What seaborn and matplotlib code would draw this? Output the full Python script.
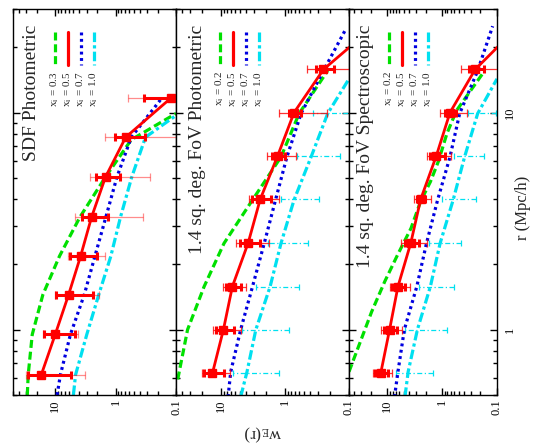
"""
w_E(r) for three samples, drawn turned on its side like the original page
"""

import numpy as np
import pandas as pd
import matplotlib
matplotlib.use("Agg")
import matplotlib.pyplot as plt
import seaborn as sns
from matplotlib.lines import Line2D
from matplotlib.ticker import FixedLocator, FixedFormatter, LogLocator, NullFormatter

# === Data: SDF photometric ===
r_sdf = [0.62, 0.95, 1.45, 2.18, 3.3, 5.05, 7.7, 11.7]
w_sdf = [17, 10, 6.0, 3.8, 2.5, 1.47, 0.68, 0.12]
err_sdf_in = [11.5, 5.3, 3.6, 1.8, 1.15, 0.63, 0.36, 0.22]
err_sdf_out = [13.8, 5.8, 4.1, 2.3, 2.15, 1.2, 0.8, 0.5]

sdf_r_green = [0.5, 0.62, 0.95, 1.45, 2.18, 3.3, 5.05, 7.5, 9.9]
sdf_w_green = [29, 28, 24, 16, 8.5, 3.9, 1.47, 0.55, 0.1]
sdf_r_blue = [0.5, 0.62, 0.95, 1.45, 2.18, 3.3, 5.05, 7.7, 11.7]
sdf_w_blue = [9.3, 8.2, 5.6, 3.3, 2.2, 1.45, 0.95, 0.55, 0.17]
sdf_r_cyan = [0.5, 0.62, 0.95, 1.45, 2.18, 3.3, 5.05, 7.7, 9.7]
sdf_w_cyan = [5.0, 4.6, 3.0, 1.9, 1.2, 0.83, 0.54, 0.32, 0.1]

# === Data: 1.4 sq. deg. FoV (both panels share r bins) ===
r_fov = [0.63, 1.0, 1.58, 2.51, 3.98, 6.31, 10.0, 15.8, 25.1]

w_phot = [13.5, 9.1, 6.6, 3.74, 2.43, 1.30, 0.72, 0.25, 0.04]
err_phot_in = [4.6, 2.9, 1.8, 1.3, 0.78, 0.31, 0.15, 0.08, 0]
err_phot_out = [6.4, 4.2, 2.6, 2.0, 1.2, 0.63, 0.5, 0.2, 0]
phot_w_cyanpts = [3.9, 2.75, 1.7, 1.15, 0.72, 0.39, 0.22]
phot_err_cyan = [2.65, 1.9, 1.1, 0.71, 0.43, 0.25, 0.15]

phot_r_green = [0.59, 1.0, 1.58, 2.5, 3.96, 6.25, 9.9, 15.6]
phot_w_green = [47, 33, 18.2, 8.9, 3.2, 1.15, 0.6, 0.215]
phot_r_blue = [0.49, 0.64, 1.0, 1.58, 2.5, 3.96, 6.25, 9.9, 15.6, 24.5]
phot_w_blue = [7.7, 7.0, 4.9, 3.2, 2.1, 1.4, 0.93, 0.56, 0.25, 0.11]
phot_r_cyan = [0.49, 0.64, 1.0, 1.58, 2.5, 3.96, 6.25, 9.9, 14.3]
phot_w_cyan = [4.9, 3.9, 2.84, 1.7, 1.15, 0.72, 0.39, 0.215, 0.1]

w_spec = [13.2, 9.1, 6.4, 3.73, 2.47, 1.28, 0.72, 0.25, 0.04]
err_spec_in = [3.6, 2.3, 1.65, 1.1, 0.4, 0.38, 0.15, 0.08, 0]
err_spec_out = [5.0, 3.75, 2.5, 1.85, 0.85, 0.6, 0.37, 0.2, 0]
spec_w_cyanpts = [4.17, 2.83, 1.64, 1.09, 0.63, 0.39, 0.225]
spec_err_cyan = [2.7, 2.0, 1.03, 0.64, 0.39, 0.22, 0.12]

spec_r_green = [0.64, 1.21, 1.67, 2.22, 2.93, 3.9, 4.8, 6.0, 8.0, 10.2, 15.2]
spec_w_green = [50, 19.3, 11.1, 6.45, 3.7, 2.47, 1.64, 1.16, 0.82, 0.55, 0.18]
spec_r_blue = [0.49, 0.64, 1.0, 1.58, 2.5, 3.96, 6.25, 9.9, 15.6, 25]
spec_w_blue = [7.4, 6.4, 4.9, 2.9, 1.93, 1.21, 0.72, 0.48, 0.225, 0.12]
spec_r_cyan = [0.49, 0.64, 1.0, 1.58, 2.5, 3.96, 6.25, 9.9, 14.3]
spec_w_cyan = [4.77, 4.17, 2.83, 1.64, 1.09, 0.63, 0.39, 0.225, 0.1]

titles = ["SDF Photometric", "1.4 sq. deg. FoV Photometric", "1.4 sq. deg. FoV Spectroscopic"]
legend_sdf = ["0.3", "0.5", "0.7", "1.0"]
legend_fov = ["0.2", "0.5", "0.7", "1.0"]

# === Style ===
sns.set_style("ticks")
plt.rcParams["font.family"] = ["Liberation Serif", "DejaVu Serif"]
plt.rcParams["mathtext.fontset"] = "stix"

RED, GREEN, BLUE, CYAN = "#ff0000", "#00e000", "#0000e0", "#00e0f0"
LS = {"green": (0, (2.5, 1.2)), "red": "-", "blue": (0, (0.9, 1.1)), "cyan": (0, (3, 1, 1, 1))}
COLS = {"green": GREEN, "red": RED, "blue": BLUE, "cyan": CYAN}

W, H = 536, 447
fig = plt.figure(figsize=(W / 100, H / 100), dpi=100)


def fx(px):
    return px / W


def fy(py):
    return 1 - py / H


# pixel boxes of the three panels (left, width)
boxes = [(13, 163), (176, 173), (349, 148)]
top_px, bot_px = 9, 395
title_xs = [32, 197, 366]
leg_offsets = [23, 36, 49, 62]

panels = [
    dict(r=r_sdf, w=w_sdf, e_in=err_sdf_in, e_out=err_sdf_out, thin_alpha=0.45,
         curves=[("green", sdf_r_green, sdf_w_green), ("blue", sdf_r_blue, sdf_w_blue),
                 ("cyan", sdf_r_cyan, sdf_w_cyan)],
         cyan_w=None, cyan_e=None, leg=legend_sdf),
    dict(r=r_fov, w=w_phot, e_in=err_phot_in, e_out=err_phot_out, thin_alpha=0.8,
         curves=[("green", phot_r_green, phot_w_green), ("blue", phot_r_blue, phot_w_blue),
                 ("cyan", phot_r_cyan, phot_w_cyan)],
         cyan_w=phot_w_cyanpts, cyan_e=phot_err_cyan, leg=legend_fov),
    dict(r=r_fov, w=w_spec, e_in=err_spec_in, e_out=err_spec_out, thin_alpha=0.8,
         curves=[("green", spec_r_green, spec_w_green), ("blue", spec_r_blue, spec_w_blue),
                 ("cyan", spec_r_cyan, spec_w_cyan)],
         cyan_w=spec_w_cyanpts, cyan_e=spec_err_cyan, leg=legend_fov),
]

for i, (p, (left, width)) in enumerate(zip(panels, boxes)):
    ax = fig.add_axes([fx(left), fy(bot_px), width / W, (bot_px - top_px) / H])
    ax.set_xscale("log")
    ax.set_yscale("log")

    # model curves
    for name, rr, ww in p["curves"]:
        sns.lineplot(x=ww, y=rr, ax=ax, sort=False, estimator=None, color=COLS[name],
                     lw=2.3, linestyle=LS[name], zorder=2)

    # cyan error bars (x_i = 1.0)
    if p["cyan_w"] is not None:
        n = len(p["cyan_w"])
        cw = np.array(p["cyan_w"])
        ce = np.array(p["cyan_e"])
        eb = ax.errorbar(cw, p["r"][:n], xerr=[np.minimum(ce, cw * 0.999), ce], fmt="none",
                         ecolor=CYAN, elinewidth=0.9, capsize=2.5, capthick=0.9, zorder=1)
        for lc in eb[2]:
            lc.set_linestyle((0, (4, 2, 1, 2)))

    # measured points (red)
    w = np.array(p["w"])
    e_out = np.array(p["e_out"])
    e_in = np.array(p["e_in"])
    ax.errorbar(w, p["r"], xerr=[np.minimum(e_out, w * 0.999), e_out], fmt="none",
                ecolor=RED, alpha=p["thin_alpha"], elinewidth=0.9, capsize=3,
                capthick=0.9, zorder=3)
    ax.errorbar(w, p["r"], xerr=[np.minimum(e_in, w * 0.999), e_in], fmt="none",
                ecolor=RED, elinewidth=2.2, capsize=3, capthick=2.2, zorder=4)
    sns.lineplot(x=w, y=p["r"], ax=ax, sort=False, estimator=None, color=RED, lw=2.0, zorder=5)
    ax.plot(w, p["r"], ls="none", marker="s", ms=6, color=RED, zorder=6)

    ax.set_xlim(50, 0.1)
    ax.set_ylim(0.5, 30)
    ax.set_xlabel("")
    ax.set_ylabel("")

    ax.xaxis.set_major_locator(FixedLocator([0.1, 1, 10]))
    ax.xaxis.set_major_formatter(FixedFormatter(["0.1", "1", "10"]))
    ax.xaxis.set_minor_locator(LogLocator(base=10, subs=np.arange(2, 10)))
    ax.xaxis.set_minor_formatter(NullFormatter())
    ax.yaxis.set_major_locator(FixedLocator([1, 10]))
    ax.yaxis.set_major_formatter(FixedFormatter(["1", "10"]))
    ax.yaxis.set_minor_locator(LogLocator(base=10, subs=np.arange(2, 10)))
    ax.yaxis.set_minor_formatter(NullFormatter())

    ax.tick_params(which="both", direction="in", top=True, bottom=True, left=True, right=True,
                   width=1, colors="black")
    ax.tick_params(which="major", length=5)
    ax.tick_params(which="minor", length=2.7)
    ax.tick_params(axis="x", labelrotation=90, labelsize=9, pad=3)
    ax.tick_params(axis="y", labelleft=False, labelright=(i == 2), labelrotation=90,
                   labelsize=9, pad=5)
    for lab in ax.get_yticklabels():
        lab.set_va("center")
    for s in ax.spines.values():
        s.set_linewidth(1.0)
        s.set_color("black")
        s.set_visible(True)

    # title and legend, turned like the page
    tx = title_xs[i]
    fig.text(fx(tx), fy(25), titles[i], rotation=90, ha="center", va="top", fontsize=14)
    for k, name in enumerate(["green", "red", "blue", "cyan"]):
        x = tx + leg_offsets[k]
        fig.add_artist(Line2D([fx(x), fx(x)], [fy(32), fy(65)], transform=fig.transFigure,
                              color=COLS[name], lw=2.3, linestyle=LS[name]))
        fig.text(fx(x), fy(71), r"x$_{\mathregular{i}}$ = " + p["leg"][k], rotation=90,
                 ha="center", va="top", fontsize=8)

fig.text(fx(263), fy(433), r"w$_{\mathregular{E}}$(r)", rotation=180, ha="center", va="center",
         fontsize=12)
fig.text(fx(523), fy(208), "r (Mpc/h)", rotation=90, ha="center", va="center", fontsize=12)

fig.savefig("out.png", dpi=100)
